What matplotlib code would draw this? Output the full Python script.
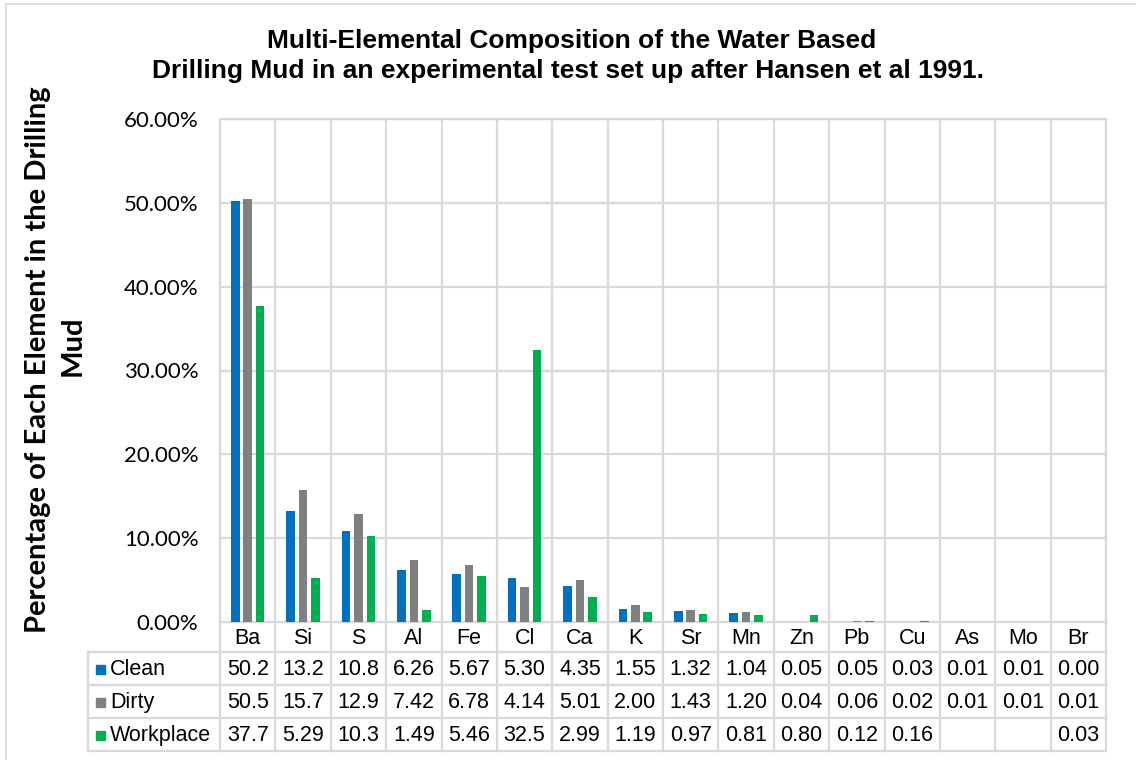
import matplotlib.pyplot as plt
import matplotlib.transforms as mtransforms
from matplotlib.lines import Line2D
from matplotlib.patches import Rectangle
from matplotlib.ticker import PercentFormatter, MultipleLocator
import numpy as np

# Data (percent of each element in the drilling mud)
elements = ["Ba", "Si", "S", "Al", "Fe", "Cl", "Ca", "K", "Sr", "Mn",
            "Zn", "Pb", "Cu", "As", "Mo", "Br"]
clean = [50.2, 13.2, 10.8, 6.26, 5.67, 5.30, 4.35, 1.55, 1.32, 1.04,
         0.05, 0.05, 0.03, 0.01, 0.01, 0.00]
dirty = [50.5, 15.7, 12.9, 7.42, 6.78, 4.14, 5.01, 2.00, 1.43, 1.20,
         0.04, 0.06, 0.02, 0.01, 0.01, 0.01]
workplace = [37.7, 5.29, 10.3, 1.49, 5.46, 32.5, 2.99, 1.19, 0.97, 0.81,
             0.80, 0.12, 0.16, None, None, 0.03]
series_names = ["Clean", "Dirty", "Workplace"]
series_vals = [clean, dirty, workplace]
colors = ["#0070C0", "#808080", "#00B050"]

W, H = 1136, 760
GRID = "#d9d9d9"
TFONT = "Liberation Sans"


def fx(x):
    return x / W


def fy(y):
    return 1 - y / H


fig = plt.figure(figsize=(W / 100, H / 100), dpi=100)
left, right, top, bottom = 220, 1106, 119, 622
ax = fig.add_axes([fx(left), fy(bottom), fx(right) - fx(left), fy(top) - fy(bottom)])

x = np.arange(len(elements)) + 0.5
offsets = [-0.225, 0.0, 0.225]
for name, vals, col, off in zip(series_names, series_vals, colors, offsets):
    v = np.array([np.nan if a is None else a for a in vals], dtype=float)
    ax.bar(x + off, v, width=0.155, color=col, label=name, zorder=3)

ax.set_xlim(0, len(elements))
ax.set_ylim(0, 60)
ax.yaxis.set_major_locator(MultipleLocator(10))
ax.yaxis.set_major_formatter(PercentFormatter(xmax=100, decimals=2))
ax.set_xticks(np.arange(len(elements) + 1))
ax.set_xticklabels([])
ax.tick_params(length=0, axis="both")
ax.tick_params(axis="y", pad=15.5, labelsize=16)
for lab in ax.get_yticklabels():
    lab.set_fontfamily("Lato")
ax.grid(True, color=GRID, lw=1.6, zorder=0)
ax.set_axisbelow(True)
for s in ax.spines.values():
    s.set_color(GRID)
    s.set_linewidth(1.6)

# Titles
fig.text(0.503, fy(41), "Multi-Elemental Composition of the Water Based",
         ha="center", va="center", fontsize=19, fontweight="bold", family=TFONT)
fig.text(0.500, fy(71), "Drilling Mud in an experimental test set up after Hansen et al 1991.",
         ha="center", va="center", fontsize=19, fontweight="bold", family=TFONT)

# Y axis title (two lines as wrapped in the original)
fig.text(fx(38), fy(360), "Percentage of Each Element in the Drilling", rotation=90,
         ha="center", va="center", fontsize=21, fontweight="bold", family="Lato")
fig.text(fx(73), fy(346), "Mud", rotation=90,
         ha="center", va="center", fontsize=21, fontweight="bold", family="Lato")

# Data table below the plot
blend = mtransforms.blended_transform_factory(ax.transData, fig.transFigure)
row_edges = [622, 652, 685, 718, 751]
tbl_left = 88

for i in range(len(elements) + 1):
    fig.add_artist(Line2D([i, i], [fy(row_edges[0]), fy(row_edges[-1])],
                          transform=blend, color=GRID, lw=1.6))
for y in row_edges[1:]:
    fig.add_artist(Line2D([fx(tbl_left), fx(right)], [fy(y), fy(y)],
                          transform=fig.transFigure, color=GRID, lw=1.6))
fig.add_artist(Line2D([fx(tbl_left), fx(tbl_left)], [fy(row_edges[1]), fy(row_edges[-1])],
                      transform=fig.transFigure, color=GRID, lw=1.6))

hdr_y = fy((row_edges[0] + row_edges[1]) / 2 + 1)
for xi, el in zip(x, elements):
    fig.text(xi, hdr_y, el, transform=blend, ha="center", va="center",
             fontsize=15.5, family=TFONT)


def fmt(v):
    if v is None:
        return ""
    return f"{v:.1f}" if v >= 10 else f"{v:.2f}"


for r, (name, vals, col) in enumerate(zip(series_names, series_vals, colors)):
    yc = (row_edges[r + 1] + row_edges[r + 2]) / 2 + 1
    fig.add_artist(Rectangle((fx(96), fy(yc + 4.5)), 9 / W, 9 / H,
                             transform=fig.transFigure, color=col))
    fig.text(fx(110), fy(yc), name, ha="left", va="center", fontsize=15.5, family=TFONT)
    for xi, v in zip(x, vals):
        fig.text(xi, fy(yc), fmt(v), transform=blend, ha="center", va="center",
                 fontsize=15.5, family=TFONT)

# Chart area border
fig.add_artist(Line2D([fx(6), fx(6)], [fy(4), 0], transform=fig.transFigure, color=GRID, lw=1.2))
fig.add_artist(Line2D([fx(6), 1], [fy(4), fy(4)], transform=fig.transFigure, color=GRID, lw=1.2))

fig.savefig("out.png", dpi=100)
